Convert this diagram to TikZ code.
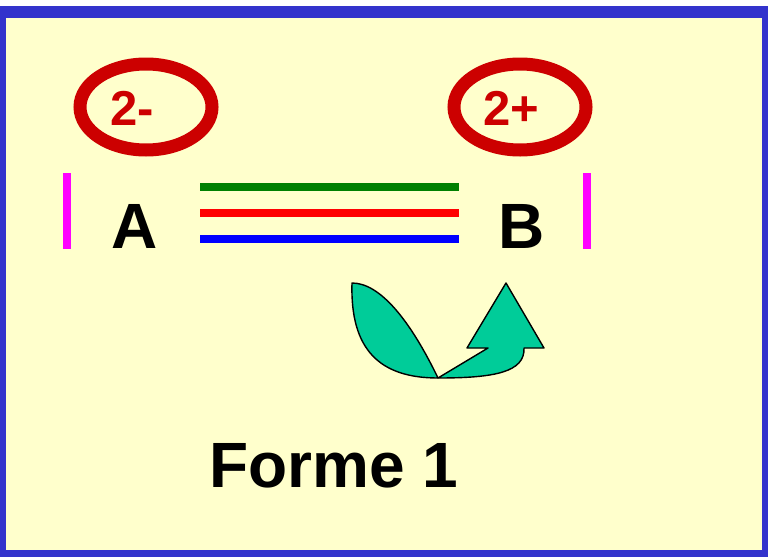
\documentclass[tikz,border=0pt]{standalone}
\usepackage{fontspec}
\setmainfont{Liberation Sans}
\usepackage{xcolor}
\usetikzlibrary{positioning}

\definecolor{framebg}{HTML}{FFFFCC}
\definecolor{frameblue}{HTML}{3333CC}
\definecolor{ringred}{HTML}{CC0000}
\definecolor{barmag}{HTML}{FF00FF}
\definecolor{bondgreen}{HTML}{008000}
\definecolor{bondred}{HTML}{FF0000}
\definecolor{bondblue}{HTML}{0000FF}
\definecolor{arrowfill}{HTML}{00CC99}

\begin{document}
\begin{tikzpicture}[
  x=1pt, y=-1pt,
  atom/.style={
    font=\fontsize{64}{70}\selectfont\bfseries,
    anchor=base,
    inner sep=0pt
  },
  charge/.style={
    font=\fontsize{49}{54}\selectfont\bfseries,
    text=ringred,
    anchor=base,
    inner sep=0pt
  },
  ring/.style={
    draw=ringred,
    line width=13pt
  },
  bar/.style={
    draw=barmag,
    line width=8pt
  },
  bond/.style={
    line width=8pt
  },
  curlyarrow/.style={
    draw=black,
    fill=arrowfill,
    line width=1.4pt,
    line join=round
  }
]
\useasboundingbox (0,0) rectangle (768,557);

% Frame
\fill[frameblue] (0,6) rectangle (768,557);
\fill[framebg] (6,18) rectangle (762,550);

% Charge rings
\draw[ring] (146,107) ellipse [x radius=66, y radius=43];
\draw[ring] (520,107) ellipse [x radius=66, y radius=43];
\node[charge] (chargeA) at (132,125) {2-};
\node[charge] (chargeB) at (511,125) {2+};

% Atoms
\node[atom] (atomA) at (135,248) {A};
\node[atom] (atomB) at (522,248) {B};

% Bracket bars
\coordinate (barAtop) at (67,173);
\coordinate (barAbot) at (67,249);
\coordinate (barBtop) at (587,173);
\coordinate (barBbot) at (587,249);
\draw[bar] (barAtop) -- (barAbot);
\draw[bar] (barBtop) -- (barBbot);

% Triple bond
\foreach \yy/\col [count=\i] in {187/bondgreen, 213/bondred, 239/bondblue} {
  \coordinate (bondL\i) at (200,\yy);
  \coordinate (bondR\i) at (459,\yy);
  \draw[bond, \col] (bondL\i) -- (bondR\i);
}

% Curly arrow
\coordinate (tip) at (438,378);
\draw[curlyarrow] (tip) .. controls (380,378) and (350,350) .. (352,283)
  .. controls (380,283) and (410,320) .. (tip) -- cycle;
\draw[curlyarrow] (tip) -- (488,348) -- (467,348) -- (506,283) -- (544,348)
  -- (524,348) .. controls (525,372) and (495,378) .. (tip) -- cycle;

% Caption
\node[atom, font=\fontsize{64}{70}\selectfont\bfseries] (title) at (334,487) {Forme 1};

\end{tikzpicture}
\end{document}
